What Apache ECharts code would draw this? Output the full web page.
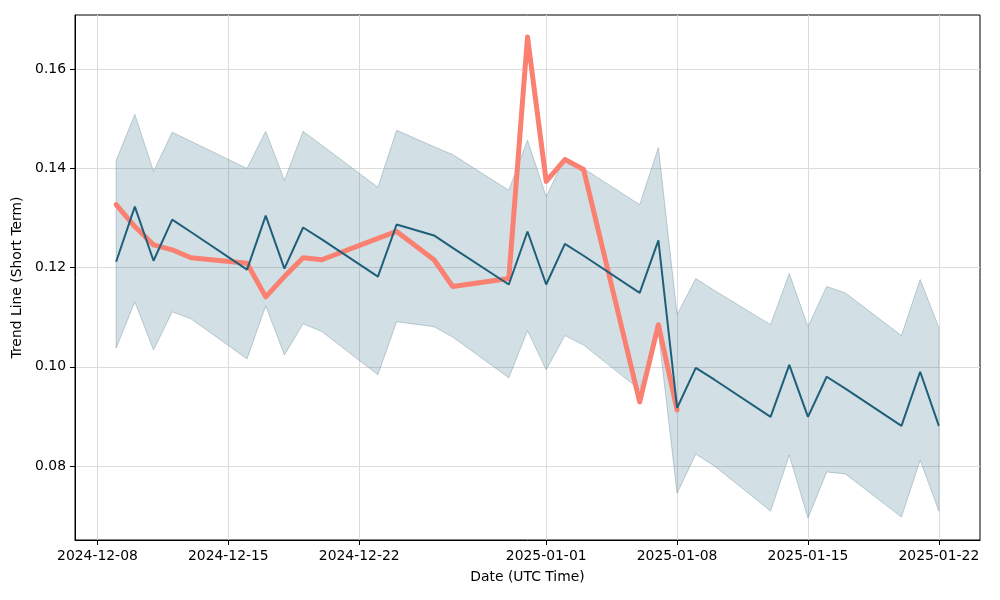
<!DOCTYPE html>
<html>
<head>
<meta charset="utf-8">
<script src="https://cdn.jsdelivr.net/npm/echarts@6/dist/echarts.min.js"></script>
<style>
html,body{margin:0;padding:0;background:#fff;}
#chart{width:1000px;height:600px;}
</style>
</head>
<body>
<div id="chart"></div>
<script>
const dates = ['2024-12-09','2024-12-10','2024-12-11','2024-12-12','2024-12-13','2024-12-16','2024-12-17','2024-12-18','2024-12-19','2024-12-20','2024-12-23','2024-12-24','2024-12-26','2024-12-27','2024-12-30','2024-12-31','2025-01-01','2025-01-02','2025-01-03','2025-01-06','2025-01-07','2025-01-08','2025-01-09','2025-01-10','2025-01-13','2025-01-14','2025-01-15','2025-01-16','2025-01-17','2025-01-20','2025-01-21','2025-01-22'];

const trend = [0.1212,0.1323,0.1214,0.1297,0.1272,0.1196,0.1305,0.1198,0.1281,0.1257,0.1182,0.1287,0.1265,0.1240,0.1166,0.1273,0.1166,0.1248,0.1224,0.1149,0.1255,0.0917,0.0998,0.0974,0.0899,0.1004,0.0899,0.0980,0.0956,0.0881,0.0990,0.0881];

const upper = [0.1416,0.1509,0.1394,0.1473,0.1455,0.1400,0.1475,0.1376,0.1475,0.1447,0.1362,0.1477,0.1444,0.1428,0.1356,0.1457,0.1343,0.1422,0.1400,0.1327,0.1442,0.1105,0.1178,0.1154,0.1085,0.1188,0.1081,0.1162,0.1149,0.1063,0.1176,0.1079];

const lower = [0.1038,0.1131,0.1034,0.1111,0.1097,0.1016,0.1123,0.1024,0.1087,0.1071,0.0984,0.1091,0.1081,0.1060,0.0978,0.1073,0.0994,0.1063,0.1044,0.0954,0.1070,0.0745,0.0824,0.0800,0.0709,0.0822,0.0695,0.0788,0.0784,0.0697,0.0812,0.0709];

const price = [0.1327,0.1283,0.1246,0.1236,0.1220,0.1209,0.1141,0.1182,0.1220,0.1216,0.1259,0.1273,0.1216,0.1162,0.1178,0.1665,0.1374,0.1418,0.1398,0.0929,0.1085,0.0913,null,null,null,null,null,null,null,null,null,null];

const xTickLabels = ['2024-12-08','2024-12-15','2024-12-22','2025-01-01','2025-01-08','2025-01-15','2025-01-22'];
const yTickValues = [0.08,0.10,0.12,0.14,0.16];

const DAY = 86400000;
const toMs = s => new Date(s + 'T00:00:00Z').getTime();
const xs = dates.map(toMs);
const xTicks = xTickLabels.map(toMs);
const xMin = xs[0] - 2.2 * DAY;
const xMax = xs[xs.length - 1] + 2.2 * DAY;

const pad = n => (n < 10 ? '0' : '') + n;
const fmtDate = v => { const d = new Date(v); return d.getUTCFullYear() + '-' + pad(d.getUTCMonth() + 1) + '-' + pad(d.getUTCDate()); };

const pair = arr => xs.map((x, i) => [x, arr[i]]);

const font = 'DejaVu Sans';
const chart = echarts.init(document.getElementById('chart'), null, {renderer: 'canvas'});
chart.setOption({
  animation: false,
  backgroundColor: '#ffffff',
  grid: {left: 75, right: 20, top: 15, bottom: 60, show: true, borderColor: '#000', borderWidth: 1, backgroundColor: 'transparent'},
  xAxis: {
    type: 'value', min: xMin, max: xMax,
    name: 'Date (UTC Time)', nameLocation: 'middle', nameGap: 30,
    nameTextStyle: {fontFamily: font, fontSize: 13.9, color: '#000'},
    axisLine: {show: true, lineStyle: {color: '#000', width: 1}},
    axisTick: {show: true, length: 5, lineStyle: {color: '#000'}, customValues: xTicks},
    axisLabel: {customValues: xTicks, formatter: v => fmtDate(v), fontFamily: font, fontSize: 13.9, color: '#000', margin: 9},
    splitLine: {show: true, lineStyle: {color: '#dcdcdc', width: 1}}
  },
  yAxis: {
    type: 'value', min: 0.06507, max: 0.17096,
    name: 'Trend Line (Short Term)', nameLocation: 'middle', nameGap: 47,
    nameTextStyle: {fontFamily: font, fontSize: 13.9, color: '#000'},
    axisLine: {show: true, lineStyle: {color: '#000', width: 1}},
    axisTick: {show: true, length: 5, lineStyle: {color: '#000'}, customValues: yTickValues},
    axisLabel: {customValues: yTickValues, formatter: v => v.toFixed(2), fontFamily: font, fontSize: 13.9, color: '#000', margin: 9},
    splitLine: {show: true, lineStyle: {color: '#dcdcdc', width: 1}}
  },
  series: [
    {type: 'custom', data: [0], silent: true, z: 2, clip: true,
     renderItem: function (params, api) {
       const pts = [];
       for (let i = 0; i < xs.length; i++) pts.push(api.coord([xs[i], upper[i]]));
       for (let i = xs.length - 1; i >= 0; i--) pts.push(api.coord([xs[i], lower[i]]));
       return {type: 'polygon', shape: {points: pts},
               style: {fill: 'rgba(31,95,122,0.2)', stroke: 'rgba(120,150,165,0.45)', lineWidth: 1}};
     }},
    {type: 'line', data: pair(price), symbol: 'none', connectNulls: false,
     lineStyle: {color: '#fa8072', width: 5, cap: 'round', join: 'round'}, z: 3},
    {type: 'line', data: pair(trend), symbol: 'none',
     lineStyle: {color: '#1f5f7a', width: 2}, z: 4}
  ]
});
</script>
</body>
</html>
